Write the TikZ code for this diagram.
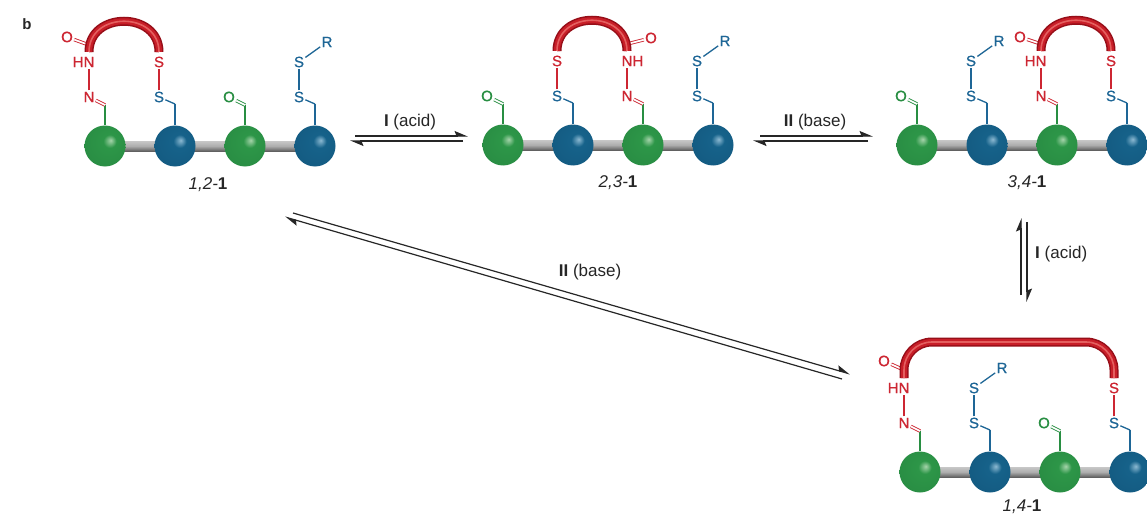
\documentclass[tikz,border=0pt]{standalone}
\usepackage{fontspec}
\setmainfont{Liberation Sans}
\newfontfamily\atomfont[FakeBold=0.8]{Liberation Sans}
\usetikzlibrary{arrows.meta}

% colours
\definecolor{gHi}{RGB}{165,212,170}
\definecolor{gMain}{RGB}{45,150,72}
\definecolor{gDeep}{RGB}{18,92,42}
\definecolor{bHi}{RGB}{140,185,210}
\definecolor{bMain}{RGB}{22,98,138}
\definecolor{bDeep}{RGB}{8,52,84}
\definecolor{atRed}{RGB}{205,38,50}
\definecolor{atBlue}{RGB}{30,102,150}
\definecolor{atGreen}{RGB}{40,142,66}
\definecolor{tubeDark}{RGB}{150,14,24}
\definecolor{tubeMain}{RGB}{200,30,40}
\definecolor{tubeLight}{RGB}{228,95,95}

% bead shadings
\pgfdeclareradialshading{greenbead}{\pgfpoint{7bp}{7bp}}{color(0bp)=(gHi); color(8bp)=(gMain); color(30bp)=(gMain!85!gDeep); color(50bp)=(gDeep)}
\pgfdeclareradialshading{bluebead}{\pgfpoint{7bp}{7bp}}{color(0bp)=(bHi); color(8bp)=(bMain); color(30bp)=(bMain!85!bDeep); color(50bp)=(bDeep)}

\tikzset{
  gsph/.style={circle, inner sep=0pt, minimum size=41pt, shading=greenbead},
  bsph/.style={circle, inner sep=0pt, minimum size=41pt, shading=bluebead},
  rod/.style={top color=black!22, bottom color=black!62, middle color=black!32},
  atom/.style={inner sep=1.2pt, font=\atomfont\fontsize{15}{15}\selectfont},
  gatom/.style={atom, text=atGreen},
  batom/.style={atom, text=atBlue},
  ratom/.style={atom, text=atRed},
  bond/.style={line width=1.3pt},
  gbond/.style={bond, draw=atGreen},
  bbond/.style={bond, draw=atBlue},
  rbond/.style={bond, draw=atRed},
  dbl/.style={line width=0.9pt, double=white, double distance=1.7pt},
  tubeA/.style={line width=9pt, draw=tubeDark},
  tubeB/.style={line width=6pt, draw=tubeMain},
  tubeC/.style={line width=1.6pt, draw=tubeLight},
  harp/.style={line width=1.2pt, draw=black!85, -{Stealth[left, length=12pt, width=10pt, inset=2pt]}},
  cond/.style={font=\fontsize{17}{20}\selectfont, text=black!85, inner sep=1pt},
  mlabel/.style={font=\fontsize{17}{20}\selectfont, text=black!85, inner sep=1pt},
}

% aldehyde on bead #1 at local x #2
\newcommand\aldehyde[2]{%
  \coordinate (#1t) at (#2,-41);
  \draw[gbond] (#1.north) -- (#1t);
  \node[gatom] (#1s) at (#2-16,-49) {O};
  \draw[gbond,dbl] (#1t) -- (#1s);
}
% free disulfide S-S-R on bead #1
\newcommand\disulfide[2]{%
  \coordinate (#1t) at (#2,-42);
  \draw[bbond] (#1.north) -- (#1t);
  \node[batom] (#1s) at (#2-16,-49) {S};
  \node[batom] (#1u) at (#2-16,-84) {S};
  \node[batom] (#1r) at (#2+12,-104) {R};
  \draw[bbond] (#1t) -- (#1s);
  \draw[bbond] (#1s) -- (#1u);
  \draw[bbond] (#1u) -- (#1r);
}
% disulfide to the linker on bead #1
\newcommand\linkS[2]{%
  \coordinate (#1t) at (#2,-42);
  \draw[bbond] (#1.north) -- (#1t);
  \node[batom] (#1s) at (#2-16,-49) {S};
  \node[ratom] (#1u) at (#2-16,-84) {S};
  \coordinate (#1e) at (#2-16,-94);
  \draw[bbond] (#1t) -- (#1s);
  \draw[rbond] (#1s) -- (#1u);
}
% hydrazone to the linker on bead #1, #3 = HN / NH text
\newcommand\hydrazone[3]{%
  \coordinate (#1t) at (#2,-41);
  \draw[gbond] (#1.north) -- (#1t);
  \node[ratom] (#1s) at (#2-16,-49) {N};
  \node[ratom] (#1u) at (#2-16,-84) {#3};
  \coordinate (#1e) at (#2-16,-94);
  \draw[rbond,dbl] (#1t) -- (#1s);
  \draw[rbond] (#1s) -- (#1u);
}
% red linker tube along path #1
\newcommand\tube[1]{%
  \draw[tubeA] #1; \draw[tubeB] #1; \draw[tubeC] #1;
}
% backbone: four beads on a rod, prefix #1
\newcommand\backbone[1]{%
  \coordinate (#1p1) at (0,0);
  \coordinate (#1p4) at (210,0);
  \shade[rod] ([yshift=5pt]#1p1) rectangle ([yshift=-5pt]#1p4);
  \node[gsph] (#1a) at (0,0) {};
  \node[bsph] (#1b) at (70,0) {};
  \node[gsph] (#1c) at (140,0) {};
  \node[bsph] (#1d) at (210,0) {};
}

\begin{document}
\begin{tikzpicture}[x=1pt, y=-1pt]
\useasboundingbox (0,0) rectangle (1147,516);
\fill[white] (0,0) rectangle (1147,516);

\node[font=\fontsize{15}{16}\selectfont\bfseries, text=black!85] (panel) at (27,24) {b};

% ---- 1,2-1
\begin{scope}[shift={(105,146)}]
  \backbone{m1}
  \hydrazone{m1a}{0}{\llap{H}N}
  \linkS{m1b}{70}
  \aldehyde{m1c}{140}
  \disulfide{m1d}{210}
  \node[ratom] (m1o) at (-38,-109) {O};
  \coordinate (m1k) at (-16,-101);
  \draw[rbond,dbl] (m1o) -- (m1k);
  \tube{(m1ae) .. controls +(0,-41) and +(0,-41) .. (m1be)}
  \node[mlabel] (m1lbl) at (103,39) {\itshape 1,2-\upshape\bfseries 1};
\end{scope}

% ---- 2,3-1
\begin{scope}[shift={(503,145)}]
  \backbone{m2}
  \aldehyde{m2a}{0}
  \linkS{m2b}{70}
  \hydrazone{m2c}{140}{N\rlap{H}}
  \disulfide{m2d}{210}
  \node[ratom] (m2o) at (148,-107) {O};
  \coordinate (m2k) at (124,-101);
  \draw[rbond,dbl] (m2o) -- (m2k);
  \tube{(m2be) .. controls +(0,-41) and +(0,-41) .. (m2ce)}
  \node[mlabel] (m2lbl) at (115,38) {\itshape 2,3-\upshape\bfseries 1};
\end{scope}

% ---- 3,4-1
\begin{scope}[shift={(917,145)}]
  \backbone{m3}
  \aldehyde{m3a}{0}
  \disulfide{m3b}{70}
  \hydrazone{m3c}{140}{\llap{H}N}
  \linkS{m3d}{210}
  \node[ratom] (m3o) at (103,-108) {O};
  \coordinate (m3k) at (124,-101);
  \draw[rbond,dbl] (m3o) -- (m3k);
  \tube{(m3ce) .. controls +(0,-41) and +(0,-41) .. (m3de)}
  \node[mlabel] (m3lbl) at (110,38) {\itshape 3,4-\upshape\bfseries 1};
\end{scope}

% ---- 1,4-1
\begin{scope}[shift={(920,472)}]
  \backbone{m4}
  \hydrazone{m4a}{0}{\llap{H}N}
  \disulfide{m4b}{70}
  \aldehyde{m4c}{140}
  \linkS{m4d}{210}
  \node[ratom] (m4o) at (-36,-111) {O};
  \coordinate (m4k) at (-16,-102);
  \draw[rbond,dbl] (m4o) -- (m4k);
  \tube{[rounded corners=28pt] (m4ae) -- ++(0,-36) -| (m4de)}
  \node[mlabel] (m4lbl) at (102,35) {\itshape 1,4-\upshape\bfseries 1};
\end{scope}

% ---- equilibria
\coordinate (q1a) at (355,136); \coordinate (q1b) at (468,136);
\coordinate (q1c) at (463,141); \coordinate (q1d) at (350,141);
\draw[harp] (q1a) -- (q1b);
\draw[harp] (q1c) -- (q1d);
\node[cond] (c1) at (410,122) {\textbf{I} (acid)};

\coordinate (q2a) at (760,136); \coordinate (q2b) at (873,136);
\coordinate (q2c) at (868,141); \coordinate (q2d) at (753,141);
\draw[harp] (q2a) -- (q2b);
\draw[harp] (q2c) -- (q2d);
\node[cond] (c2) at (815,122) {\textbf{II} (base)};

\coordinate (q3a) at (1021,295); \coordinate (q3b) at (1021,218);
\coordinate (q3c) at (1027,222); \coordinate (q3d) at (1027,302);
\draw[harp] (q3a) -- (q3b);
\draw[harp] (q3c) -- (q3d);
\node[cond, anchor=west] (c3) at (1034,254) {\textbf{I} (acid)};

\coordinate (q4a) at (293,213); \coordinate (q4b) at (850,374);
\coordinate (q4c) at (842,379); \coordinate (q4d) at (285,217);
\draw[harp] (q4a) -- (q4b);
\draw[harp] (q4c) -- (q4d);
\node[cond] (c4) at (590,272) {\textbf{II} (base)};
\end{tikzpicture}
\end{document}
